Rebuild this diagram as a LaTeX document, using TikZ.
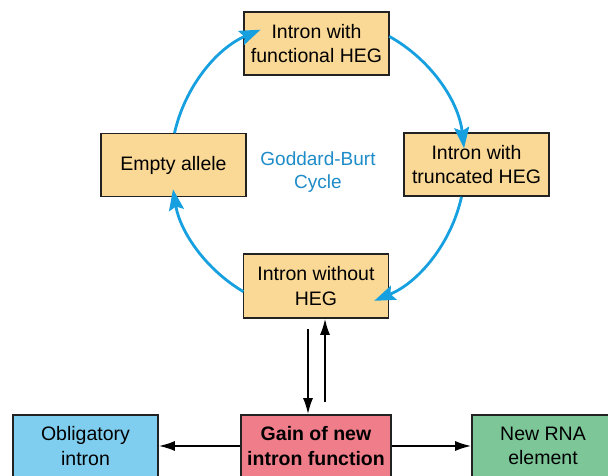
\documentclass[tikz,border=0pt]{standalone}
\usepackage{fontspec}
\setmainfont{Liberation Sans}
\usetikzlibrary{arrows.meta,calc}
\definecolor{peach}{HTML}{FAD896}
\definecolor{rosefill}{HTML}{F07D8A}
\definecolor{skyfill}{HTML}{80CEEF}
\definecolor{mintfill}{HTML}{7DC698}
\definecolor{cyclecol}{HTML}{17A0DF}
\definecolor{cycletext}{HTML}{1E8CC8}
\definecolor{edgecol}{HTML}{222222}
\begin{document}
\begin{tikzpicture}[x=1pt,y=1pt,
  box/.style={draw=edgecol, line width=1.6pt, align=center, inner sep=0pt,
    minimum width=145pt, minimum height=63pt,
    font=\fontsize{19.5}{24.5}\selectfont},
  stagebox/.style={box, fill=peach},
  cyclearrow/.style={draw=cyclecol, line width=2.8pt,
    -{Stealth[length=21pt,width=15pt,inset=3.5pt]}},
  flowarrow/.style={draw=black, line width=1.8pt,
    -{Latex[length=16pt,width=10pt]}}]
\clip (0,0) rectangle (608,476);
\fill[white] (0,0) rectangle (608,476);

% Goddard-Burt cycle stages
\node[stagebox] (top)   at (316.5,432.5) {Intron with\\functional HEG};
\node[stagebox] (right) at (476.5,311.5) {Intron with\\truncated HEG};
\node[stagebox] (left)  at (173.5,311)   {Empty allele};
\node[stagebox, minimum height=64pt] (bot) at (316,190) {Intron without\\HEG};

\node[font=\fontsize{19}{23}\selectfont, text=cycletext, align=center]
  (label) at (318,304) {Goddard-Burt\\Cycle};

% Outcomes of the intron
\node[box, fill=rosefill, minimum width=150pt, minimum height=62pt,
  font=\fontsize{19.5}{24.5}\selectfont\bfseries] (gain) at (316,30)
  {Gain of new\\intron function};
\node[box, fill=skyfill, minimum height=62pt] (oblig) at (85.5,30)
  {Obligatory\\intron};
\node[box, fill=mintfill, minimum width=142pt, minimum height=62pt] (rna)
  at (543,30) {New RNA\\element};

% Cycle arcs around a common centre
\coordinate (cc) at (318,311);
\coordinate (a1) at ($(cc)+(167.5:147)$);
\coordinate (a2) at ($(cc)+(61:147)$);
\coordinate (a3) at ($(cc)+(-12.5:147)$);
\coordinate (a4) at ($(cc)+(-120.5:147)$);
\draw[cyclearrow] (a1) arc[start angle=167.5, end angle=113,   radius=147];
\draw[cyclearrow] (a2) arc[start angle=61,    end angle=6.5,   radius=147];
\draw[cyclearrow] (a3) arc[start angle=-12.5, end angle=-67.5, radius=147];
\draw[cyclearrow] (a4) arc[start angle=-120.5,end angle=-170.5,radius=147];

% Links between the cycle and the outcomes
\draw[flowarrow] ([xshift=-8pt,yshift=-10pt]bot.south) -- ([xshift=-8pt]gain.north);
\draw[flowarrow] ([xshift=9pt,yshift=12pt]gain.north) -- ([xshift=9pt]bot.south);
\draw[flowarrow] (gain.west) -- (oblig.east);
\draw[flowarrow] (gain.east) -- (rna.west);
\end{tikzpicture}
\end{document}
